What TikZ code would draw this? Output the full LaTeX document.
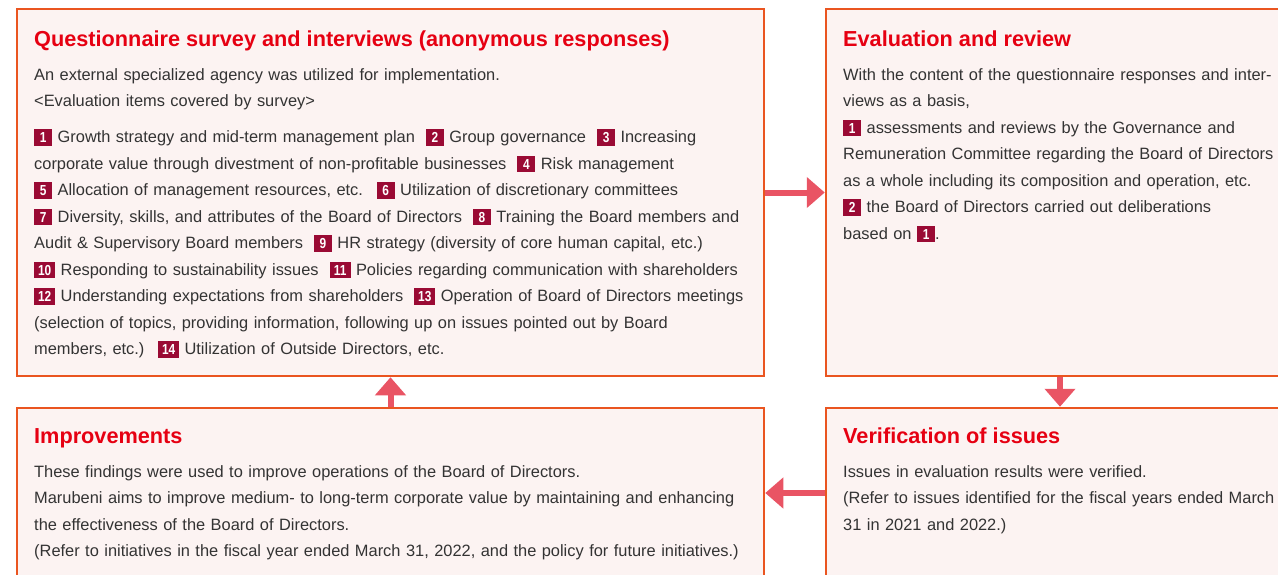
\documentclass[tikz,border=0pt]{standalone}
\usepackage{fontspec}
\setmainfont{Liberation Sans}
\usepackage{graphicx}
\usetikzlibrary{arrows.meta}

\definecolor{frame}{HTML}{EA5520}
\definecolor{paper}{HTML}{FCF3F2}
\definecolor{flowred}{HTML}{E95464}
\definecolor{headred}{HTML}{E60012}
\definecolor{ink}{HTML}{333333}
\definecolor{badgered}{HTML}{9A0A34}

% numbered square
\newcommand{\badge}[2][18pt]{{\setlength{\fboxsep}{0pt}\colorbox{badgered}{\makebox[#1]{\rule[-3pt]{0pt}{16.5pt}\textcolor{white}{\fontsize{14.5}{14.5}\selectfont\bfseries\scalebox{0.82}[1]{#2}}}}}}

\begin{document}
\begin{tikzpicture}[x=1pt, y=-1pt]
  \tikzstyle{box}=[draw=frame, fill=paper, line width=2.5pt]
  \tikzstyle{head}=[anchor=base west, inner sep=0pt, text=headred,
    font=\fontsize{21.7}{26}\selectfont\bfseries]
  \tikzstyle{body}=[anchor=north west, inner sep=0pt, align=left, text=ink,
    font=\fontsize{16.4}{26.5}\selectfont]
  \tikzstyle{flow}=[draw=flowred, line width=6pt, -{Triangle[length=18pt, width=30pt]}]

  \useasboundingbox (0,0) rectangle (1278,574);
  \clip (0,0) rectangle (1278,574);

  % Frames
  \node[box, minimum width=747pt, minimum height=367pt] (survey)  at (390.5, 192.5) {};
  \node[box, minimum width=468pt, minimum height=367pt] (review)  at (1060, 192.5) {};
  \node[box, minimum width=468pt, minimum height=170pt] (verify)  at (1060, 493) {};
  \node[box, minimum width=747pt, minimum height=170pt] (improve) at (390.5, 493) {};

  % Top left: survey
  \node[head] (surveyhead) at (34, 46) {Questionnaire survey and interviews (anonymous responses)};
  \node[body, text width=735pt] (surveytext) at (34, 61.45) {\strut An external specialized agency was utilized for implementation.\\
    <Evaluation items covered by survey>\par\vspace{9.5pt}
    \badge{1} Growth strategy and mid-term management plan~ \badge{2} Group governance~ \badge{3} Increasing\\
    corporate value through divestment of non-profitable businesses~ \badge{4} Risk management\\
    \badge{5} Allocation of management resources, etc.~ \badge{6} Utilization of discretionary committees\\
    \badge{7} Diversity, skills, and attributes of the Board of Directors~ \badge{8} Training the Board members and\\
    Audit \& Supervisory Board members~ \badge{9} HR strategy (diversity of core human capital, etc.)\\
    \badge[21pt]{10} Responding to sustainability issues~ \badge[21pt]{11} Policies regarding communication with shareholders\\
    \badge[21pt]{12} Understanding expectations from shareholders~ \badge[21pt]{13} Operation of Board of Directors meetings\\
    (selection of topics, providing information, following up on issues pointed out by Board\\
    members, etc.)~ \badge[21pt]{14} Utilization of Outside Directors, etc.};

  % Top right: review
  \node[head] (reviewhead) at (843, 46) {Evaluation and review};
  \node[body, text width=440pt] (reviewtext) at (843, 61.45) {\strut With the content of the questionnaire responses and inter-\\
    views as a basis,\\
    \badge{1} assessments and reviews by the Governance and\\
    Remuneration Committee regarding the Board of Directors\\
    as a whole including its composition and operation, etc.\\
    \badge{2} the Board of Directors carried out deliberations\\
    based on \badge{1}.};

  % Bottom right: verification
  \node[head] (verifyhead) at (843, 443) {Verification of issues};
  \node[body, text width=440pt] (verifytext) at (843, 458.45) {\strut Issues in evaluation results were verified.\\
    (Refer to issues identified for the fiscal years ended March\\
    31 in 2021 and 2022.)};

  % Bottom left: improvements
  \node[head] (improvehead) at (34, 443) {Improvements};
  \node[body, text width=735pt] (improvetext) at (34, 458.45) {\strut These findings were used to improve operations of the Board of Directors.\\
    Marubeni aims to improve medium- to long-term corporate value by maintaining and enhancing\\
    the effectiveness of the Board of Directors.\\
    (Refer to initiatives in the fiscal year ended March 31, 2022, and the policy for future initiatives.)};

  \draw[flow] (survey.east) -- (review.west);
  \draw[flow] (review.south) -- (verify.north);
  \draw[flow] (verify.west) -- (improve.east);
  \draw[flow] (improve.north) -- (survey.south);
\end{tikzpicture}
\end{document}
